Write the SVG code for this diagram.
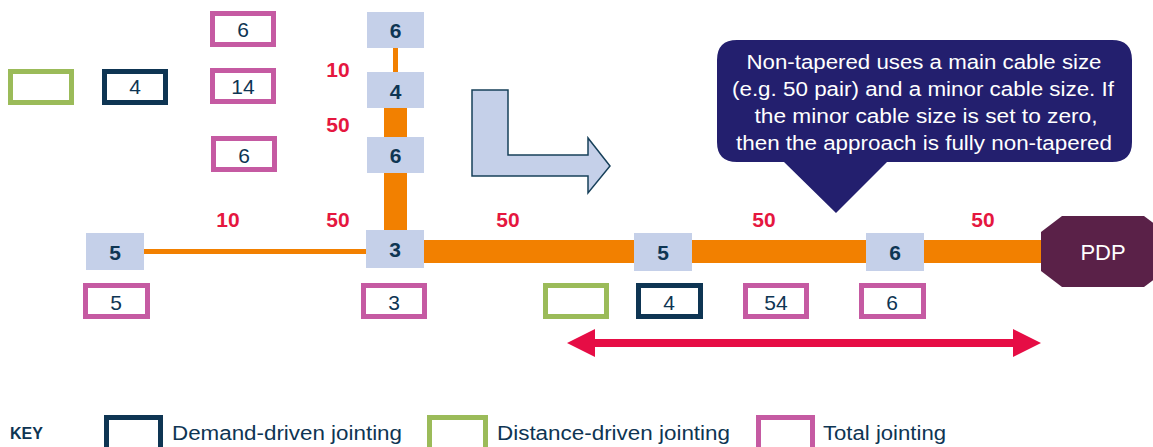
<svg xmlns="http://www.w3.org/2000/svg" width="1153" height="447" viewBox="0 0 1153 447">
<style>
text{font-family:"Liberation Sans",Arial,sans-serif}
.node{fill:#c5d0e9}
.nl{font-size:21px;font-weight:bold;fill:#0e3553;text-anchor:middle}
.bl{font-size:21px;fill:#0e3553;text-anchor:middle}
.red{font-size:21px;font-weight:bold;fill:#e5173f;text-anchor:middle}
.bx{fill:#fff;stroke-width:5}
.pk{stroke:#c55aa2}
.gr{stroke:#9bbb59}
.nv{stroke:#0e3553}
.thin{stroke:#f28000;stroke-width:5;fill:none}
.thick{stroke:#f28000;stroke-width:23;fill:none}
.call{font-size:20px;fill:#fff;text-anchor:middle}
.key{font-size:20px;fill:#0e3553}
</style>
<g id="connectors">
<line class="thin" x1="395.5" y1="48" x2="395.5" y2="72"/>
<line class="thick" x1="395.5" y1="108" x2="395.5" y2="232"/>
<line class="thin" x1="144" y1="251.5" x2="366" y2="251.5"/>
<line class="thick" x1="424" y1="251.5" x2="1045" y2="251.5"/>
</g>
<g id="cable-labels">
<text class="red" x="338" y="77">10</text>
<text class="red" x="338" y="132">50</text>
<text class="red" x="228" y="227">10</text>
<text class="red" x="338" y="227">50</text>
<text class="red" x="508" y="227">50</text>
<text class="red" x="764" y="227">50</text>
<text class="red" x="983" y="227">50</text>
</g>
<g id="node-top6"><rect class="node" x="367" y="12" width="57" height="36"/><text class="nl" x="395.5" y="38">6</text></g>
<g id="node-top4"><rect class="node" x="367" y="72" width="57" height="36"/><text class="nl" x="395.5" y="99">4</text></g>
<g id="node-mid6"><rect class="node" x="367" y="137" width="57" height="36"/><text class="nl" x="395.5" y="163">6</text></g>
<g id="node-left5"><rect class="node" x="86" y="233" width="58" height="37"/><text class="nl" x="115" y="260">5</text></g>
<g id="node-3"><rect class="node" x="366" y="230" width="58" height="38"/><text class="nl" x="395" y="257">3</text></g>
<g id="node-right5"><rect class="node" x="634" y="233" width="58" height="38"/><text class="nl" x="663" y="260">5</text></g>
<g id="node-right6"><rect class="node" x="866" y="233" width="58" height="38"/><text class="nl" x="895" y="260">6</text></g>
<g id="pdp"><path d="M1062,216 H1144 L1165,232 V271 L1144,287 H1062 L1041,271 V232 Z" fill="#5a2148"/><text x="1103" y="260" font-size="22" fill="#fff" text-anchor="middle">PDP</text></g>
<g id="box-green-tl"><rect class="bx gr" x="10.5" y="71.5" width="61" height="31"/></g>
<g id="box-navy-tl"><rect class="bx nv" x="104.5" y="71.5" width="61" height="31"/><text class="bl" x="135" y="94">4</text></g>
<g id="box-pink-6a"><rect class="bx pk" x="212.5" y="13.5" width="61" height="31"/><text class="bl" x="243" y="37">6</text></g>
<g id="box-pink-14"><rect class="bx pk" x="212.5" y="70.5" width="61" height="31"/><text class="bl" x="243" y="94">14</text></g>
<g id="box-pink-6b"><rect class="bx pk" x="213.5" y="138.5" width="61" height="31"/><text class="bl" x="244" y="163">6</text></g>
<g id="box-pink-5"><rect class="bx pk" x="85.5" y="285.5" width="62" height="31"/><text class="bl" x="116" y="310">5</text></g>
<g id="box-pink-3"><rect class="bx pk" x="363.5" y="285.5" width="61" height="31"/><text class="bl" x="394" y="310">3</text></g>
<g id="box-green-b"><rect class="bx gr" x="545.5" y="285.5" width="61" height="31"/></g>
<g id="box-navy-b"><rect class="bx nv" x="638.5" y="285.5" width="62" height="31"/><text class="bl" x="669" y="310">4</text></g>
<g id="box-pink-54"><rect class="bx pk" x="745.5" y="285.5" width="61" height="31"/><text class="bl" x="776" y="310">54</text></g>
<g id="box-pink-6c"><rect class="bx pk" x="861.5" y="285.5" width="62" height="31"/><text class="bl" x="892" y="310">6</text></g>
<g id="turn-arrow"><path d="M472,90 H508 V155 H588 V138 L610,166 L588,193 V176 H472 Z" fill="#c5d0e9" stroke="#17405a" stroke-width="1.5"/></g>
<g id="callout">
<path d="M737,40 H1112 Q1132,40 1132,60 V142 Q1132,162 1112,162 H887 L836,213 L784,162 H737 Q717,162 717,142 V60 Q717,40 737,40 Z" fill="#231f6e"/>
<text class="call" x="924" y="69" textLength="355" lengthAdjust="spacingAndGlyphs">Non-tapered uses a main cable size</text>
<text class="call" x="923" y="96" textLength="382" lengthAdjust="spacingAndGlyphs">(e.g. 50 pair) and a minor cable size. If</text>
<text class="call" x="926" y="123" textLength="343" lengthAdjust="spacingAndGlyphs">the minor cable size is set to zero,</text>
<text class="call" x="924" y="150" textLength="376" lengthAdjust="spacingAndGlyphs">then the approach is fully non-tapered</text>
</g>
<g id="span-arrow"><path d="M567,343 L595,329 V339 H1013 V329 L1041,343 L1013,357 V347 H595 V357 Z" fill="#e60d45"/></g>
<g id="key">
<text x="10" y="439" font-size="16" font-weight="bold" fill="#0e3553">KEY</text>
<rect class="bx nv" x="106.5" y="417.5" width="54" height="45"/>
<text class="key" x="172" y="440" textLength="230" lengthAdjust="spacingAndGlyphs">Demand-driven jointing</text>
<rect class="bx gr" x="429.5" y="417.5" width="56" height="45"/>
<text class="key" x="497" y="440" textLength="233" lengthAdjust="spacingAndGlyphs">Distance-driven jointing</text>
<rect class="bx pk" x="758.5" y="417.5" width="54" height="45"/>
<text class="key" x="823" y="440" textLength="123" lengthAdjust="spacingAndGlyphs">Total jointing</text>
</g>
</svg>
